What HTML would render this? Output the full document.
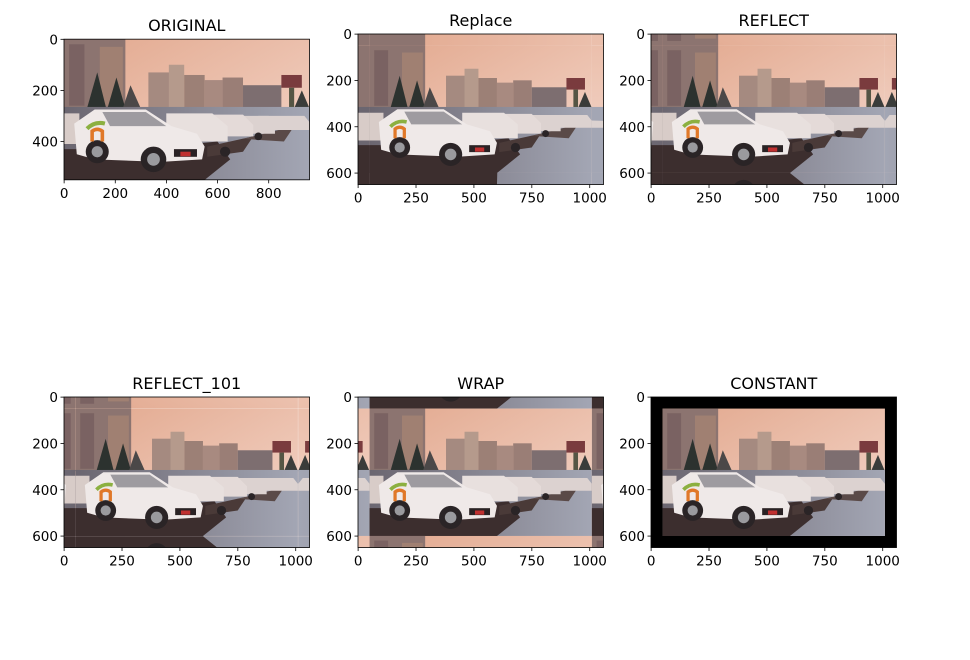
<!DOCTYPE html>
<html><head><meta charset="utf-8">
<style>
html,body{margin:0;padding:0;background:#fff;width:970px;height:660px;overflow:hidden;}
svg{display:block;font-family:"DejaVu Sans","Liberation Sans",sans-serif;}
</style></head>
<body>
<svg id="fig" width="970" height="660" viewBox="0 0 970 660" xmlns="http://www.w3.org/2000/svg" overflow="hidden">
<defs>
<linearGradient id="sky" x1="0" y1="0" x2="1" y2="1">
<stop offset="0" stop-color="#e2a88e"/><stop offset="0.6" stop-color="#edc4b2"/><stop offset="1" stop-color="#f0d6cc"/>
</linearGradient>
<linearGradient id="ground" x1="0" y1="0" x2="1" y2="0">
<stop offset="0" stop-color="#6b6670"/><stop offset="1" stop-color="#a3a6b4"/>
</linearGradient>
<g id="photo">
<rect x="0" y="0" width="960" height="550" fill="url(#sky)"/>
<rect x="0" y="0" width="240" height="270" fill="#8c7470"/>
<rect x="20" y="20" width="60" height="240" fill="#7a6262"/>
<rect x="140" y="30" width="90" height="230" fill="#a08072"/>
<rect x="330" y="130" width="90" height="140" fill="#a58a80"/>
<rect x="410" y="100" width="60" height="170" fill="#b59a8c"/>
<rect x="470" y="140" width="80" height="130" fill="#9c8076"/>
<rect x="550" y="160" width="70" height="110" fill="#a88a80"/>
<rect x="620" y="150" width="80" height="120" fill="#9a7e76"/>
<rect x="700" y="180" width="150" height="90" fill="#7d6e70"/>
<rect x="850" y="140" width="80" height="50" fill="#7a3b3e"/>
<rect x="880" y="190" width="20" height="80" fill="#554"/>
<polygon points="90,270 130,130 165,270" fill="#2c322f"/>
<polygon points="170,270 205,150 240,270" fill="#2c322f"/>
<polygon points="230,270 260,180 300,270" fill="#4b4848"/>
<polygon points="900,270 930,200 960,270" fill="#3a3c3a"/>
<rect x="0" y="265" width="960" height="285" fill="url(#ground)"/>
<polygon points="0,430 0,550 550,550 650,470 600,400 300,430" fill="#3c2e2e"/>
<polygon points="560,420 740,380 700,440 560,460" fill="#4a3a38"/>
<polygon points="700,390 900,340 860,400" fill="#5a4a48"/>
<g fill="#dcd2d0">
<path d="M760,300 h180 l20,25 v30 h-200 z"/>
<path d="M660,300 h140 l25,30 v40 h-165 z"/>
<path d="M560,295 h140 l40,40 v45 h-180 z" fill="#e4dad8"/>
<path d="M400,290 h180 l60,50 v60 h-240 z" fill="#e8e0de"/>
<path d="M0,290 h60 v120 h-60 z" fill="#d8ccc8"/>
</g>
<path d="M40,330 L120,275 L320,275 L420,340 L520,370 L550,420 L540,470 L380,480 L120,470 L50,450 Z" fill="#efe9e8"/>
<path d="M150,285 L320,285 L400,340 L180,340 Z" fill="#9e9ba0"/>
<rect x="430" y="430" width="90" height="30" fill="#2a2224"/>
<rect x="455" y="440" width="40" height="18" fill="#c03030"/>
<circle cx="130" cy="440" r="45" fill="#2a2426"/><circle cx="130" cy="440" r="22" fill="#9a9a9e"/>
<circle cx="350" cy="470" r="50" fill="#2a2426"/><circle cx="350" cy="470" r="25" fill="#9a9a9e"/>
<path d="M90,350 q30,-30 70,-20" stroke="#8cb040" stroke-width="16" fill="none"/>
<path d="M110,400 v-40 q20,-15 40,0 v40" stroke="#e07828" stroke-width="14" fill="none"/>
<circle cx="630" cy="440" r="20" fill="#2a2426"/>
<circle cx="760" cy="380" r="15" fill="#2a2426"/>
</g>
<clipPath id="c0"><rect x="0" y="0" width="960" height="550"/></clipPath>
<clipPath id="c1"><rect x="0" y="0" width="1060" height="650"/></clipPath>
</defs>
<g id="panels"></g>
</svg>
<script>
const titles = ["ORIGINAL","Replace","REFLECT","REFLECT_101","WRAP","CONSTANT"];
const modes = ["none","replicate","reflect","reflect101","wrap","constant"];
const xTicksOrig = [0,200,400,600,800];
const yTicksOrig = [0,200,400];
const xTicksPad = [0,250,500,750,1000];
const yTicksPad = [0,200,400,600];
const imgW = 960, imgH = 550, pad = 50;

const NS = "http://www.w3.org/2000/svg";
const root = document.getElementById("panels");
function mk(tag, attrs, parent){
  const e = document.createElementNS(NS, tag);
  for (const k in attrs) e.setAttribute(k, attrs[k]);
  parent.appendChild(e); return e;
}
const lefts = [64, 358, 651];
const tops = [34, 397];
titles.forEach((t, i) => {
  const col = i % 3, row = Math.floor(i / 3);
  const orig = modes[i] === "none";
  const W = orig ? imgW : imgW + 2 * pad, H = orig ? imgH : imgH + 2 * pad;
  const w = 245.5, sc = w / W, h = H * sc;
  const L = lefts[col], T = orig ? tops[row] + (151 - h) / 2 : tops[row];
  const g = mk("g", {}, root);
  
  
  const img = mk("g", {transform: `translate(${L},${T}) scale(${sc})`}, g);
  const cl = mk("g", {"clip-path": orig ? "url(#c0)" : "url(#c1)"}, img);
  
  
  if (orig) {
    mk("use", {href: "#photo"}, cl);
  } else {
    const m = modes[i];
    if (m === "constant") mk("rect", {x: 0, y: 0, width: W, height: H, fill: "#000"}, cl);
    for (let dx = -1; dx <= 1; dx++) for (let dy = -1; dy <= 1; dy++) {
      if (m === "constant" && (dx || dy)) continue;
      let tr;
      if (m === "wrap") {
        tr = `translate(${pad + dx * imgW},${pad + dy * imgH})`;
      } else if (m === "replicate") {
        const ox = dx < 0 ? 0 : dx > 0 ? pad + imgW : pad;
        const oy = dy < 0 ? 0 : dy > 0 ? pad + imgH : pad;
        const ax = dx > 0 ? imgW - 1 : 0;
        const ay = dy > 0 ? imgH - 1 : 0;
        tr = `translate(${ox},${oy}) scale(${dx===0?1:pad},${dy===0?1:pad}) translate(${-ax},${-ay})`;
        const sub = mk("g", {transform: tr}, cl);
        if (dx !== 0 || dy !== 0) {
          const cp = mk("svg", {x: ax, y: ay, width: dx===0?imgW:1, height: dy===0?imgH:1, viewBox: `${ax} ${ay} ${dx===0?imgW:1} ${dy===0?imgH:1}`, preserveAspectRatio: "none", overflow: "hidden"}, sub);
          mk("use", {href: "#photo"}, cp);
        } else mk("use", {href: "#photo"}, sub);
        continue;
      } else {
        const sx = dx === 0 ? 1 : -1, sy = dy === 0 ? 1 : -1;
        const off = m === "reflect101" ? 1 : 0;
        const tx = dx < 0 ? pad - off : dx > 0 ? pad + 2 * imgW + off : pad;
        const ty = dy < 0 ? pad - off : dy > 0 ? pad + 2 * imgH + off : pad;
        tr = `translate(${tx},${ty}) scale(${sx},${sy})`;
      }
      mk("use", {href: "#photo", transform: tr}, cl);
    }
  }
  const fr = mk("rect", {x: L, y: T, width: w, height: h, fill: "none", stroke: "#000", "stroke-width": 0.8}, g);
  
  
  const tt = mk("text", {x: L + w / 2, y: T - 8, "text-anchor": "middle", "font-size": 16, fill: "#000"}, g);
  tt.textContent = t;
  
  
  const xs = orig ? xTicksOrig : xTicksPad, ys = orig ? yTicksOrig : yTicksPad;
  xs.forEach(v => {
    const px = L + (v + 0.5) * sc;
    mk("line", {x1: px, x2: px, y1: T + h, y2: T + h + 3.5, stroke: "#000", "stroke-width": 0.8}, g);
    const tx = mk("text", {x: px, y: T + h + 18, "text-anchor": "middle", "font-size": 13.5, fill: "#000"}, g);
    tx.textContent = v;
    
    
  });
  ys.forEach(v => {
    const py = T + (v + 0.5) * sc;
    mk("line", {x1: L - 3.5, x2: L, y1: py, y2: py, stroke: "#000", "stroke-width": 0.8}, g);
    const ty = mk("text", {x: L - 6, y: py + 5, "text-anchor": "end", "font-size": 13.5, fill: "#000"}, g);
    ty.textContent = v;
    
    
  });
});
</script>
</body></html>
